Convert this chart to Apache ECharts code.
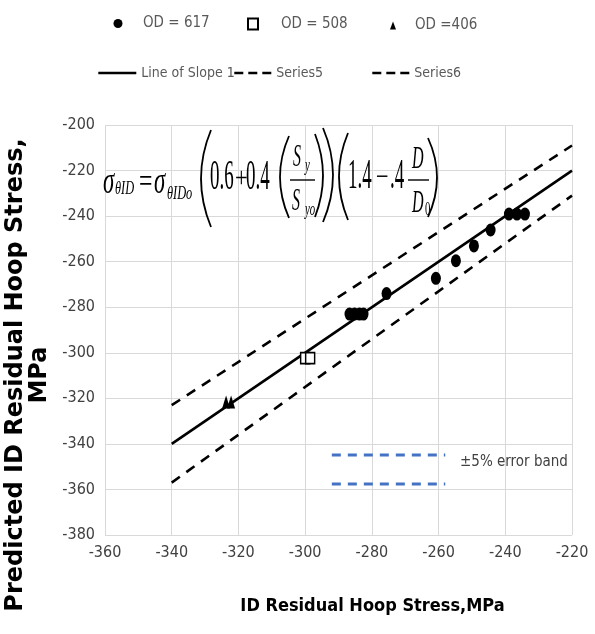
<!DOCTYPE html>
<html>
<head>
<meta charset="utf-8">
<script src="https://cdn.jsdelivr.net/npm/echarts@6/dist/echarts.min.js"></script>
<style>
  html, body { margin: 0; padding: 0; background: #fff; }
  #chart { width: 595px; height: 634px; }
</style>
</head>
<body>
<div id="chart"></div>
<script>
  // measured points (MPa)
  const od617X = [-286.7, -285.2, -283.7, -282.5, -275.6, -260.8, -254.8, -249.4, -244.4, -238.9, -236.5, -234.1];
  const od617Y = [-283, -283, -283, -283, -274, -267.3, -259.6, -253.1, -246.1, -239.1, -239.1, -239.1];
  const od508X = [-300, -298.5];
  const od508Y = [-302.3, -302.3];
  const od406X = [-323.7, -322.2];
  const od406Y = [-321.6, -321.6];

  // reference lines
  const lineX = [-340, -220];
  const slopeY = [-340, -220];
  const series5Y = [-323, -209];
  const series6Y = [-357, -231];

  // error band key
  const bandX = [-292, -258];
  const bandUpperY = [-344.9, -344.9];
  const bandLowerY = [-357.6, -357.6];

  const xTicks = { min: -360, max: -220, step: 20 };
  const yTicks = { min: -380, max: -200, step: 20 };

  const pairs = (xs, ys) => xs.map((x, i) => [x, ys[i]]);

  const NARROW = "'Liberation Sans Narrow', 'DejaVu Sans Condensed', 'Liberation Sans', sans-serif";
  const SERIF = "'Liberation Serif', 'DejaVu Serif', serif";

  // formula pieces
  function ft(x, y, s, size, italic, sx) {
    return {
      type: 'text', x: x, y: y, scaleX: sx || 0.5, z: 50,
      style: {
        text: s, x: 0, y: 0, fontFamily: SERIF, fontSize: size,
        fontStyle: italic ? 'italic' : 'normal', fill: '#000',
        align: 'left', verticalAlign: 'middle', textAlign: 'left', textVerticalAlign: 'middle'
      }
    };
  }
  function paren(a, b, top, bottom, left) {
    const xe = left ? b : a;
    const cx = left ? 2 * a - b : 2 * b - a;
    return {
      type: 'bezierCurve', z: 50,
      shape: { x1: xe, y1: top, x2: xe, y2: bottom, cpx1: cx, cpy1: (top + bottom) / 2 },
      style: { stroke: '#000', lineWidth: 1.8, fill: 'none' }
    };
  }
  function bar(x1, x2, y) {
    return { type: 'line', z: 50, shape: { x1: x1, y1: y, x2: x2, y2: y }, style: { stroke: '#000', lineWidth: 1.4 } };
  }

  const formula = [
    ft(103, 183, 'σ', 38, true, 0.6), ft(115, 189, 'θID', 19, true, 0.65),
    ft(139, 183, '=', 34, false, 0.7),
    ft(154, 183, 'σ', 38, true, 0.6), ft(167, 194, 'θIDo', 19, true, 0.65),
    paren(201, 211, 130, 227, true),
    ft(210, 178, '0.6', 42, false, 0.45),
    ft(235, 179, '+', 30, false, 0.75),
    ft(246, 178, '0.4', 42, false, 0.45),
    paren(280, 289, 136, 218, true),
    ft(293, 158, 'S', 32, true), ft(305, 166, 'y', 18, true, 0.6),
    bar(290, 315, 180),
    ft(292, 202, 'S', 32, true), ft(305, 210, 'yo', 18, true, 0.6),
    paren(315, 323, 134, 217, false),
    paren(323, 333, 128, 222, false),
    paren(339, 348, 133, 220, true),
    ft(348, 177, '1.4', 42, false, 0.45),
    ft(376, 178, '−', 30, false, 0.75),
    ft(390, 177, '.4', 42, false, 0.45),
    ft(412, 160, 'D', 32, true),
    bar(408, 429, 180),
    ft(412, 204, 'D', 32, true), ft(425, 210, '0', 18, false, 0.6),
    paren(428, 437, 138, 217, false),
    {
      type: 'text', left: 460, top: 455, z: 50,
      style: { text: '±5% error band', fontFamily: NARROW, fontSize: 15, fill: '#404040' }
    }
  ];

  const chart = echarts.init(document.getElementById('chart'));

  const legendBase = {
    orient: 'horizontal', padding: 0, itemGap: 0, symbolKeepAspect: false,
    textStyle: { color: '#595959', fontFamily: NARROW, fontSize: 15 }
  };
  function lg(name, left, top, w, h, pad, size) {
    return Object.assign({}, legendBase, {
      data: [name], left: left, top: top, itemWidth: w, itemHeight: h,
      textStyle: Object.assign({}, legendBase.textStyle, { fontSize: size || 15, padding: [0, 0, 0, pad] })
    });
  }
  function lgLine(name, left, dashed) {
    return Object.assign(lg(name, left, 66, dashed ? 37 : 38, 14, 0, 14), {
      itemStyle: { opacity: 0 },
      lineStyle: { width: 2.6, type: dashed ? [9, 5] : 'solid' }
    });
  }

  chart.setOption({
    animation: false,
    backgroundColor: '#fff',
    legend: [
      lg('OD = 617', 113.5, 16, 9, 12, 15.5),
      lg('OD = 508', 247, 16.5, 10, 11, 18),
      lg('OD =406', 390, 18, 6, 8, 14),
      lgLine('Line of Slope 1', 97, false),
      lgLine('Series5', 233, true),
      lgLine('Series6', 371, true)
    ],
    grid: { left: 105, right: 23, top: 125, bottom: 99, containLabel: false, outerBoundsMode: 'none' },
    xAxis: {
      type: 'value', min: xTicks.min, max: xTicks.max, interval: xTicks.step,
      axisLine: { show: false }, axisTick: { show: false },
      splitLine: { show: true, lineStyle: { color: '#d9d9d9', width: 1 } },
      axisLabel: { color: '#404040', fontFamily: NARROW, fontSize: 16, margin: 10 },
      name: 'ID Residual Hoop Stress,MPa', nameLocation: 'middle', nameGap: 62,
      nameTextStyle: { color: '#000', fontFamily: NARROW, fontWeight: 'bold', fontSize: 18, padding: [0, 0, 0, 68] }
    },
    yAxis: {
      type: 'value', min: yTicks.min, max: yTicks.max, interval: yTicks.step,
      axisLine: { show: false }, axisTick: { show: false },
      splitLine: { show: true, lineStyle: { color: '#d9d9d9', width: 1 } },
      axisLabel: { color: '#404040', fontFamily: NARROW, fontSize: 16, margin: 10 },
      name: 'Predicted ID Residual Hoop Stress,\nMPa', nameLocation: 'middle', nameGap: 44,
      nameTextStyle: {
        color: '#000', fontFamily: "'DejaVu Sans', sans-serif", fontWeight: 'bold',
        fontSize: 24, lineHeight: 24, padding: [0, 90, 0, 0]
      }
    },
    graphic: formula,
    series: [
      {
        name: 'Line of Slope 1', type: 'line', symbol: 'none', z: 3,
        data: pairs(lineX, slopeY),
        lineStyle: { color: '#000', width: 2.6 }, itemStyle: { color: '#000' }
      },
      {
        name: 'Series5', type: 'line', symbol: 'none', z: 3,
        data: pairs(lineX, series5Y),
        lineStyle: { color: '#000', width: 2.6, type: [10, 8] }, itemStyle: { color: '#000' }
      },
      {
        name: 'Series6', type: 'line', symbol: 'none', z: 3,
        data: pairs(lineX, series6Y),
        lineStyle: { color: '#000', width: 2.6, type: [10, 8] }, itemStyle: { color: '#000' }
      },
      {
        name: 'band upper', type: 'line', symbol: 'none', z: 3, silent: true,
        data: pairs(bandX, bandUpperY),
        lineStyle: { color: '#4472c4', width: 3, type: [9, 7] }
      },
      {
        name: 'band lower', type: 'line', symbol: 'none', z: 3, silent: true,
        data: pairs(bandX, bandLowerY),
        lineStyle: { color: '#4472c4', width: 3, type: [9, 7] }
      },
      {
        name: 'OD = 617', type: 'scatter', z: 5,
        symbol: 'circle', symbolSize: [10, 13],
        data: pairs(od617X, od617Y),
        itemStyle: { color: '#000', opacity: 1 }
      },
      {
        name: 'OD = 508', type: 'scatter', z: 5,
        symbol: 'rect', symbolSize: [9, 11],
        data: pairs(od508X, od508Y),
        itemStyle: { color: '#fff', borderColor: '#000', borderWidth: 1.6, opacity: 1 }
      },
      {
        name: 'OD =406', type: 'scatter', z: 5,
        symbol: 'triangle', symbolSize: [8, 13],
        data: pairs(od406X, od406Y),
        itemStyle: { color: '#000', opacity: 1 }
      }
    ]
  });
</script>
</body>
</html>
